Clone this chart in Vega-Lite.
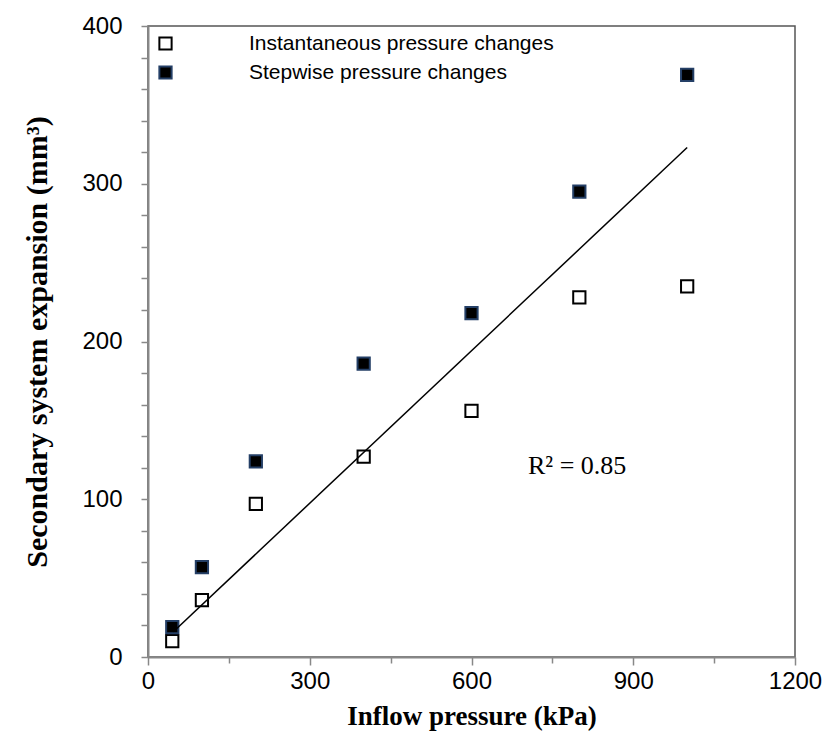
{
  "$schema": "https://vega.github.io/schema/vega-lite/v6.json",
  "width": 647,
  "height": 631,
  "autosize": {"type": "none"},
  "padding": {"left": 148, "top": 26, "right": 33, "bottom": 91},
  "background": "white",
  "config": {
    "view": {"stroke": "#555", "strokeWidth": 1.5},
    "axis": {
      "grid": false,
      "domainColor": "#888",
      "domainWidth": 2,
      "tickColor": "#888",
      "tickWidth": 1.5,
      "labelFont": "Liberation Sans",
      "labelFontSize": 24,
      "labelColor": "black",
      "labelOverlap": false,
      "titleFont": "Liberation Serif",
      "titleFontWeight": "bold",
      "titleColor": "black"
    },
    "legend": {
      "orient": "none",
      "legendX": 7,
      "legendY": 7,
      "padding": 0,
      "title": null,
      "symbolType": "square",
      "symbolSize": 150,
      "symbolStrokeWidth": 2,
      "labelFont": "Liberation Sans",
      "labelFontSize": 21,
      "labelColor": "black",
      "labelOffset": 73,
      "labelLimit": 0,
      "rowPadding": 7
    }
  },
  "encoding": {
    "x": {
      "field": "pressure", "type": "quantitative",
      "scale": {"domain": [0, 1200], "nice": false, "zero": true},
      "axis": {
        "title": "Inflow pressure (kPa)",
        "titleFontSize": 27,
        "values": [0, 150, 300, 450, 600, 750, 900, 1050, 1200],
        "labelExpr": "datum.value % 300 === 0 ? datum.label : ''",
        "format": "d",
        "tickSize": {"expr": "datum.value % 300 === 0 ? 8 : 6"},
        "labelPadding": 4,
        "titlePadding": 10,
        "labelFlush": false,
        "labelOverlap": false
      }
    },
    "y": {
      "field": "expansion", "type": "quantitative",
      "scale": {"domain": [0, 400], "nice": false},
      "axis": {
        "title": "Secondary system expansion (mm³)",
        "titleFontSize": 30,
        "values": [0, 20, 40, 60, 80, 100, 120, 140, 160, 180, 200, 220, 240, 260, 280, 300, 320, 340, 360, 380, 400],
        "labelExpr": "datum.value % 100 === 0 ? datum.label : ''",
        "format": "d",
        "tickSize": 7,
        "labelPadding": 19,
        "titlePadding": 29,
        "labelFlush": false,
        "labelOverlap": false
      }
    }
  },
  "layer": [
    {
      "data": {
        "values": [
          {"series": "Instantaneous pressure changes", "pressure": 45, "expansion": 10},
          {"series": "Instantaneous pressure changes", "pressure": 100, "expansion": 36},
          {"series": "Instantaneous pressure changes", "pressure": 200, "expansion": 97},
          {"series": "Instantaneous pressure changes", "pressure": 400, "expansion": 127},
          {"series": "Instantaneous pressure changes", "pressure": 600, "expansion": 156},
          {"series": "Instantaneous pressure changes", "pressure": 800, "expansion": 228},
          {"series": "Instantaneous pressure changes", "pressure": 1000, "expansion": 235},
          {"series": "Stepwise pressure changes", "pressure": 45, "expansion": 19},
          {"series": "Stepwise pressure changes", "pressure": 100, "expansion": 57},
          {"series": "Stepwise pressure changes", "pressure": 200, "expansion": 124},
          {"series": "Stepwise pressure changes", "pressure": 400, "expansion": 186},
          {"series": "Stepwise pressure changes", "pressure": 600, "expansion": 218},
          {"series": "Stepwise pressure changes", "pressure": 800, "expansion": 295},
          {"series": "Stepwise pressure changes", "pressure": 1000, "expansion": 369}
        ]
      },
      "mark": {"type": "point", "shape": "square", "filled": true, "size": 150, "strokeWidth": 2, "opacity": 1},
      "encoding": {
        "fill": {
          "field": "series", "type": "nominal",
          "scale": {"domain": ["Instantaneous pressure changes", "Stepwise pressure changes"], "range": ["white", "black"]}
        },
        "stroke": {
          "field": "series", "type": "nominal",
          "scale": {"domain": ["Instantaneous pressure changes", "Stepwise pressure changes"], "range": ["black", "#243f66"]}
        }
      }
    },
    {
      "data": {
        "values": [
          {"pressure": 47, "expansion": 16},
          {"pressure": 1000, "expansion": 323}
        ]
      },
      "mark": {"type": "line", "color": "black", "strokeWidth": 1.5}
    },
    {
      "data": {
        "values": [
          {"pressure": 796, "expansion": 121, "label": "R² = 0.85"}
        ]
      },
      "mark": {"type": "text", "font": "Liberation Serif", "fontSize": 26, "color": "black", "align": "center", "baseline": "middle"},
      "encoding": {
        "text": {"field": "label"}
      }
    }
  ]
}
